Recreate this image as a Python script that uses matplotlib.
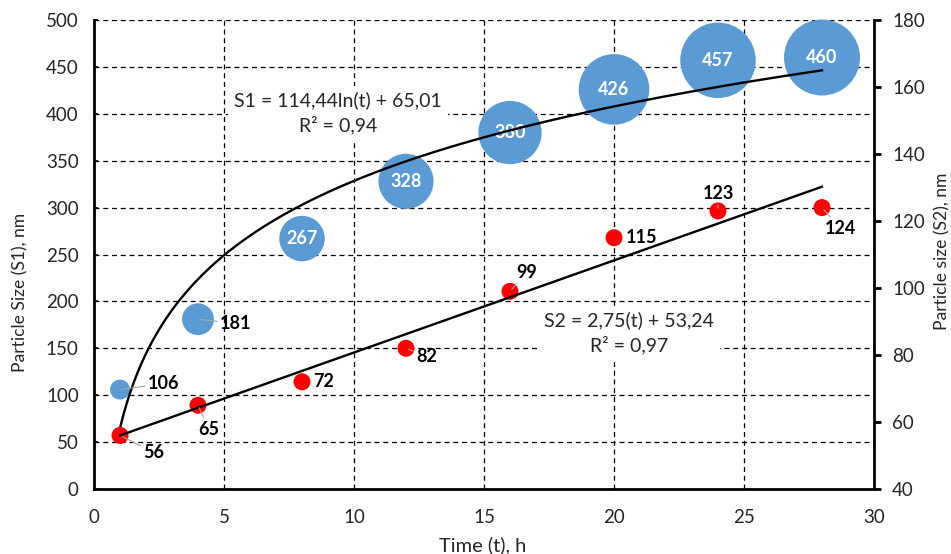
import numpy as np
import matplotlib
matplotlib.use("Agg")
import matplotlib.pyplot as plt

plt.rcParams['font.family'] = ['Lato', 'DejaVu Sans']

# ---- data ----
t = [1, 4, 8, 12, 16, 20, 24, 28]
s1 = [106, 181, 267, 328, 380, 426, 457, 460]
s2 = [56, 65, 72, 82, 99, 115, 123, 124]
s1_fit = (114.44, 65.01)   # S1 = a*ln(t) + b
s2_fit = (2.75, 53.24)     # S2 = a*t + b
s1_eq = "S1 = 114,44ln(t) + 65,01\nR² = 0,94"
s2_eq = "S2 = 2,75(t) + 53,24\nR² = 0,97"
x_ticks = [0, 5, 10, 15, 20, 25, 30]
y1_ticks = list(range(0, 501, 50))
y2_ticks = list(range(40, 181, 20))
x_label = 'Time (t), h'
y1_label = 'Particle Size (S1), nm'
y2_label = 'Particle size (S2), nm'

BLUE = '#5B9BD5'
RED = '#FF0000'
TXT = '#262626'
PX = 0.72  # px -> points at dpi 100

W, H = 951, 554
fig = plt.figure(figsize=(W / 100, H / 100), dpi=100)
ax = fig.add_axes([94/W, 1-489/H, 780/W, 469/H])
ax2 = ax.twinx()

ax.set_xlim(0, 30)
ax.set_ylim(0, 500)
ax2.set_ylim(40, 180)
ax.set_xticks(x_ticks)
ax.set_yticks(y1_ticks)
ax2.set_yticks(y2_ticks)

# grid
ax.grid(True, which='major', color='black', linestyle=(0, (4, 3)), linewidth=0.9)
ax.set_axisbelow(True)

for a in (ax, ax2):
    a.spines['top'].set_visible(False)
ax.spines['right'].set_visible(False)
ax2.spines['left'].set_visible(False)
ax2.spines['bottom'].set_visible(False)
ax.spines['left'].set_linewidth(2)
ax.spines['bottom'].set_linewidth(2)
ax2.spines['right'].set_linewidth(2)

ax.tick_params(axis='x', length=0, labelsize=13.5, pad=14.5, labelcolor=TXT)
ax.tick_params(axis='y', length=3, width=1.2, direction='in', labelsize=13.5, pad=11, labelcolor=TXT)
ax2.tick_params(axis='y', length=5, width=2, direction='out', labelsize=13.5, pad=8,
                colors='black', labelcolor=TXT)

fig.text(483/W, 1-545/H, x_label, ha='center', va='center', fontsize=14.5, color=TXT)
fig.text(20/W, 1-292/H, y1_label, ha='center', va='center', rotation=90, fontsize=12.6, color=TXT)
fig.text(942/W, 1-251/H, y2_label, ha='center', va='center', rotation=90, fontsize=12.6, color=TXT)

# bubbles (radius in px ~ linear with value)
radii_px = [0.0791 * v + 1.6 for v in s1]
sizes = [(2 * r * PX) ** 2 for r in radii_px]
ax.scatter(t, s1, s=sizes, color=BLUE, edgecolors='none', zorder=3, clip_on=False)

# red points
ax2.scatter(t, s2, s=(17 * PX) ** 2, color=RED, edgecolors='none', zorder=3, clip_on=False)

# trendlines
tt = np.linspace(min(t), max(t), 200)
ax.plot(tt, s1_fit[0] * np.log(tt) + s1_fit[1], color='black', lw=1.7, zorder=4)
ax2.plot(tt, s2_fit[0] * tt + s2_fit[1], color='black', lw=1.7, zorder=4)

# S1 labels
s1_label_style = {
    0: dict(off=(28, 6), ha='left'),
    1: dict(off=(22, -4), ha='left'),
}
for i, (x, y) in enumerate(zip(t, s1)):
    if i in s1_label_style:
        st = s1_label_style[i]
        ax.annotate(str(y), (x, y), xytext=(st['off'][0] * PX, st['off'][1] * PX),
                    textcoords='offset points', ha=st['ha'], va='center',
                    fontsize=13, fontweight='bold', color='black', zorder=6,
                    arrowprops=dict(arrowstyle='-', color='#A6A6A6', lw=0.8,
                                    shrinkA=0, shrinkB=1))
    else:
        ax.text(x, y, str(y), ha='center', va='center', fontsize=13,
                fontweight='bold', color='white', zorder=3.5)

# S2 labels: offsets in px (dx, dy up), ha, leader line
s2_label_style = [
    ((23, -17), 'left', True),
    ((11, -24), 'center', True),
    ((11, 0), 'left', False),
    ((10, -8), 'left', True),
    ((17, 19), 'center', True),
    ((12, 0), 'left', False),
    ((0, 17), 'center', True),
    ((3, -21), 'left', True),
]
for (x, y), (off, ha, leader) in zip(zip(t, s2), s2_label_style):
    kw = {}
    if leader:
        kw['arrowprops'] = dict(arrowstyle='-', color='#A6A6A6', lw=0.8, shrinkA=0, shrinkB=2)
    ax2.annotate(str(y), (x, y), xytext=(off[0] * PX, off[1] * PX),
                 textcoords='offset points', ha=ha, va='center',
                 fontsize=13, fontweight='bold', color='black', zorder=6, **kw)

# equations
box = dict(boxstyle='square,pad=0.3', facecolor='white', edgecolor='none')
ax2.text(0.313, 0.802, s1_eq, transform=ax2.transAxes, ha='center', va='center',
         fontsize=14, color=TXT, linespacing=1.4, bbox=box, zorder=2)
ax2.text(0.686, 0.333, s2_eq, transform=ax2.transAxes, ha='center', va='center',
         fontsize=14, color=TXT, linespacing=1.4, bbox=box, zorder=2)

fig.savefig('out.png', dpi=100)
